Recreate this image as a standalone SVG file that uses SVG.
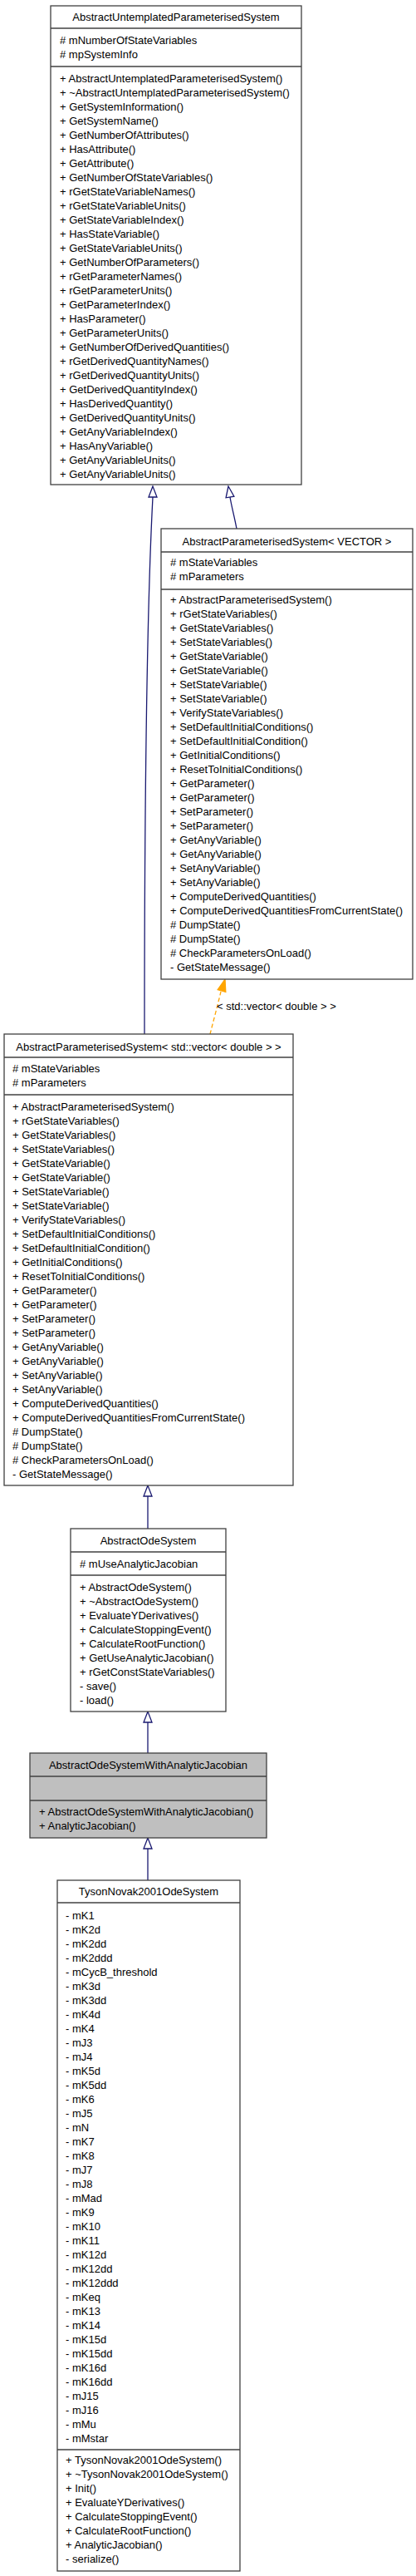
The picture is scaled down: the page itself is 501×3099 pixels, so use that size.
<svg xmlns="http://www.w3.org/2000/svg" width="501" height="3099" viewBox="0 0 501 3099">
<style>
.bg{fill:#fff}
.box{fill:#fff;stroke:#404040;stroke-width:1.3}
.gray{fill:#bfbfbf}
.sep{stroke:#404040;stroke-width:1.3}
text{font-family:"Liberation Sans",Arial,sans-serif;font-size:13px;fill:#000}
.c{text-anchor:middle}
.edge{fill:none;stroke:#191970;stroke-width:1.3}
.head{fill:#fff;stroke:#191970;stroke-width:1.3}
.tmpl{fill:none;stroke:#ffa500;stroke-width:1.3;stroke-dasharray:5,3}
.thead{fill:#ffa500;stroke:#ffa500;stroke-width:1.3}
</style>
<rect class="bg" x="0" y="0" width="501" height="3099"/>

<g id="connectors">
<path class="edge" d="M174,1244 C174,1000 176,750 184,598"/>
<polygon class="head" points="184,585 179,598 189,598"/>
<path class="edge" d="M285,636 C282,620 279,610 277,598"/>
<polygon class="head" points="275,585 272.1,598.8 281.9,597.2"/>
<path class="tmpl" d="M253,1244 C257,1228 262,1210 266,1193"/>
<polygon class="thead" points="271,1178 262.2,1190.6 271.8,1193.4"/>
<text x="261" y="1215">&lt; std::vector&lt; double &gt; &gt;</text>
<path class="edge" d="M178,1839 L178,1800"/>
<polygon class="head" points="178,1787 173,1800 183,1800"/>
<path class="edge" d="M178,2109 L178,2072"/>
<polygon class="head" points="178,2059 173,2072 183,2072"/>
<path class="edge" d="M178,2262 L178,2224"/>
<polygon class="head" points="178,2211 173,2224 183,2224"/>
</g>

<g id="AbstractUntemplatedParameterisedSystem">
<rect class="box" x="61" y="7" width="302" height="576"/>
<line class="sep" x1="61" y1="34" x2="363" y2="34"/>
<line class="sep" x1="61" y1="80" x2="363" y2="80"/>
<text class="c" x="212" y="25">AbstractUntemplatedParameterisedSystem</text>
<text x="72" y="53"># mNumberOfStateVariables</text>
<text x="72" y="70"># mpSystemInfo</text>
<text x="72" y="99">+ AbstractUntemplatedParameterisedSystem()</text>
<text x="72" y="116">+ ~AbstractUntemplatedParameterisedSystem()</text>
<text x="72" y="133">+ GetSystemInformation()</text>
<text x="72" y="150">+ GetSystemName()</text>
<text x="72" y="167">+ GetNumberOfAttributes()</text>
<text x="72" y="184">+ HasAttribute()</text>
<text x="72" y="201">+ GetAttribute()</text>
<text x="72" y="218">+ GetNumberOfStateVariables()</text>
<text x="72" y="235">+ rGetStateVariableNames()</text>
<text x="72" y="252">+ rGetStateVariableUnits()</text>
<text x="72" y="269">+ GetStateVariableIndex()</text>
<text x="72" y="286">+ HasStateVariable()</text>
<text x="72" y="303">+ GetStateVariableUnits()</text>
<text x="72" y="320">+ GetNumberOfParameters()</text>
<text x="72" y="337">+ rGetParameterNames()</text>
<text x="72" y="354">+ rGetParameterUnits()</text>
<text x="72" y="371">+ GetParameterIndex()</text>
<text x="72" y="388">+ HasParameter()</text>
<text x="72" y="405">+ GetParameterUnits()</text>
<text x="72" y="422">+ GetNumberOfDerivedQuantities()</text>
<text x="72" y="439">+ rGetDerivedQuantityNames()</text>
<text x="72" y="456">+ rGetDerivedQuantityUnits()</text>
<text x="72" y="473">+ GetDerivedQuantityIndex()</text>
<text x="72" y="490">+ HasDerivedQuantity()</text>
<text x="72" y="507">+ GetDerivedQuantityUnits()</text>
<text x="72" y="524">+ GetAnyVariableIndex()</text>
<text x="72" y="541">+ HasAnyVariable()</text>
<text x="72" y="558">+ GetAnyVariableUnits()</text>
<text x="72" y="575">+ GetAnyVariableUnits()</text>
</g>

<g id="AbstractParameterisedSystem_VECTOR">
<rect class="box" x="194" y="636" width="303" height="542"/>
<line class="sep" x1="194" y1="664" x2="497" y2="664"/>
<line class="sep" x1="194" y1="709" x2="497" y2="709"/>
<text class="c" x="345.5" y="656">AbstractParameterisedSystem&lt; VECTOR &gt;</text>
<text x="205" y="681"># mStateVariables</text>
<text x="205" y="698"># mParameters</text>
<text x="205" y="726">+ AbstractParameterisedSystem()</text>
<text x="205" y="743">+ rGetStateVariables()</text>
<text x="205" y="760">+ GetStateVariables()</text>
<text x="205" y="777">+ SetStateVariables()</text>
<text x="205" y="794">+ GetStateVariable()</text>
<text x="205" y="811">+ GetStateVariable()</text>
<text x="205" y="828">+ SetStateVariable()</text>
<text x="205" y="845">+ SetStateVariable()</text>
<text x="205" y="862">+ VerifyStateVariables()</text>
<text x="205" y="879">+ SetDefaultInitialConditions()</text>
<text x="205" y="896">+ SetDefaultInitialCondition()</text>
<text x="205" y="913">+ GetInitialConditions()</text>
<text x="205" y="930">+ ResetToInitialConditions()</text>
<text x="205" y="947">+ GetParameter()</text>
<text x="205" y="964">+ GetParameter()</text>
<text x="205" y="981">+ SetParameter()</text>
<text x="205" y="998">+ SetParameter()</text>
<text x="205" y="1015">+ GetAnyVariable()</text>
<text x="205" y="1032">+ GetAnyVariable()</text>
<text x="205" y="1049">+ SetAnyVariable()</text>
<text x="205" y="1066">+ SetAnyVariable()</text>
<text x="205" y="1083">+ ComputeDerivedQuantities()</text>
<text x="205" y="1100">+ ComputeDerivedQuantitiesFromCurrentState()</text>
<text x="205" y="1117"># DumpState()</text>
<text x="205" y="1134"># DumpState()</text>
<text x="205" y="1151"># CheckParametersOnLoad()</text>
<text x="205" y="1168">- GetStateMessage()</text>
</g>

<g id="AbstractParameterisedSystem_std_vector_double">
<rect class="box" x="5" y="1244" width="348" height="543"/>
<line class="sep" x1="5" y1="1272" x2="353" y2="1272"/>
<line class="sep" x1="5" y1="1317" x2="353" y2="1317"/>
<text class="c" x="179" y="1264">AbstractParameterisedSystem&lt; std::vector&lt; double &gt; &gt;</text>
<text x="15" y="1290"># mStateVariables</text>
<text x="15" y="1307"># mParameters</text>
<text x="15" y="1336">+ AbstractParameterisedSystem()</text>
<text x="15" y="1353">+ rGetStateVariables()</text>
<text x="15" y="1370">+ GetStateVariables()</text>
<text x="15" y="1387">+ SetStateVariables()</text>
<text x="15" y="1404">+ GetStateVariable()</text>
<text x="15" y="1421">+ GetStateVariable()</text>
<text x="15" y="1438">+ SetStateVariable()</text>
<text x="15" y="1455">+ SetStateVariable()</text>
<text x="15" y="1472">+ VerifyStateVariables()</text>
<text x="15" y="1489">+ SetDefaultInitialConditions()</text>
<text x="15" y="1506">+ SetDefaultInitialCondition()</text>
<text x="15" y="1523">+ GetInitialConditions()</text>
<text x="15" y="1540">+ ResetToInitialConditions()</text>
<text x="15" y="1557">+ GetParameter()</text>
<text x="15" y="1574">+ GetParameter()</text>
<text x="15" y="1591">+ SetParameter()</text>
<text x="15" y="1608">+ SetParameter()</text>
<text x="15" y="1625">+ GetAnyVariable()</text>
<text x="15" y="1642">+ GetAnyVariable()</text>
<text x="15" y="1659">+ SetAnyVariable()</text>
<text x="15" y="1676">+ SetAnyVariable()</text>
<text x="15" y="1693">+ ComputeDerivedQuantities()</text>
<text x="15" y="1710">+ ComputeDerivedQuantitiesFromCurrentState()</text>
<text x="15" y="1727"># DumpState()</text>
<text x="15" y="1744"># DumpState()</text>
<text x="15" y="1761"># CheckParametersOnLoad()</text>
<text x="15" y="1778">- GetStateMessage()</text>
</g>

<g id="AbstractOdeSystem">
<rect class="box" x="85" y="1839" width="187" height="220"/>
<line class="sep" x1="85" y1="1867" x2="272" y2="1867"/>
<line class="sep" x1="85" y1="1895" x2="272" y2="1895"/>
<text class="c" x="178.5" y="1858">AbstractOdeSystem</text>
<text x="96" y="1886"># mUseAnalyticJacobian</text>
<text x="96" y="1914">+ AbstractOdeSystem()</text>
<text x="96" y="1931">+ ~AbstractOdeSystem()</text>
<text x="96" y="1948">+ EvaluateYDerivatives()</text>
<text x="96" y="1965">+ CalculateStoppingEvent()</text>
<text x="96" y="1982">+ CalculateRootFunction()</text>
<text x="96" y="1999">+ GetUseAnalyticJacobian()</text>
<text x="96" y="2016">+ rGetConstStateVariables()</text>
<text x="96" y="2033">- save()</text>
<text x="96" y="2050">- load()</text>
</g>

<g id="AbstractOdeSystemWithAnalyticJacobian">
<rect class="box gray" x="36" y="2109" width="285" height="102"/>
<line class="sep" x1="36" y1="2137" x2="321" y2="2137"/>
<line class="sep" x1="36" y1="2166" x2="321" y2="2166"/>
<text class="c" x="178.5" y="2128">AbstractOdeSystemWithAnalyticJacobian</text>
<text x="47" y="2184">+ AbstractOdeSystemWithAnalyticJacobian()</text>
<text x="47" y="2201">+ AnalyticJacobian()</text>
</g>

<g id="TysonNovak2001OdeSystem">
<rect class="box" x="69" y="2262" width="220" height="831"/>
<line class="sep" x1="69" y1="2289" x2="289" y2="2289"/>
<line class="sep" x1="69" y1="2947" x2="289" y2="2947"/>
<text class="c" x="179" y="2280">TysonNovak2001OdeSystem</text>
<text x="79" y="2309">- mK1</text>
<text x="79" y="2326">- mK2d</text>
<text x="79" y="2343">- mK2dd</text>
<text x="79" y="2360">- mK2ddd</text>
<text x="79" y="2377">- mCycB_threshold</text>
<text x="79" y="2394">- mK3d</text>
<text x="79" y="2411">- mK3dd</text>
<text x="79" y="2428">- mK4d</text>
<text x="79" y="2445">- mK4</text>
<text x="79" y="2462">- mJ3</text>
<text x="79" y="2479">- mJ4</text>
<text x="79" y="2496">- mK5d</text>
<text x="79" y="2513">- mK5dd</text>
<text x="79" y="2530">- mK6</text>
<text x="79" y="2547">- mJ5</text>
<text x="79" y="2564">- mN</text>
<text x="79" y="2581">- mK7</text>
<text x="79" y="2598">- mK8</text>
<text x="79" y="2615">- mJ7</text>
<text x="79" y="2632">- mJ8</text>
<text x="79" y="2649">- mMad</text>
<text x="79" y="2666">- mK9</text>
<text x="79" y="2683">- mK10</text>
<text x="79" y="2700">- mK11</text>
<text x="79" y="2717">- mK12d</text>
<text x="79" y="2734">- mK12dd</text>
<text x="79" y="2751">- mK12ddd</text>
<text x="79" y="2768">- mKeq</text>
<text x="79" y="2785">- mK13</text>
<text x="79" y="2802">- mK14</text>
<text x="79" y="2819">- mK15d</text>
<text x="79" y="2836">- mK15dd</text>
<text x="79" y="2853">- mK16d</text>
<text x="79" y="2870">- mK16dd</text>
<text x="79" y="2887">- mJ15</text>
<text x="79" y="2904">- mJ16</text>
<text x="79" y="2921">- mMu</text>
<text x="79" y="2938">- mMstar</text>
<text x="79" y="2964">+ TysonNovak2001OdeSystem()</text>
<text x="79" y="2981">+ ~TysonNovak2001OdeSystem()</text>
<text x="79" y="2998">+ Init()</text>
<text x="79" y="3015">+ EvaluateYDerivatives()</text>
<text x="79" y="3032">+ CalculateStoppingEvent()</text>
<text x="79" y="3049">+ CalculateRootFunction()</text>
<text x="79" y="3066">+ AnalyticJacobian()</text>
<text x="79" y="3083">- serialize()</text>
</g>
</svg>
